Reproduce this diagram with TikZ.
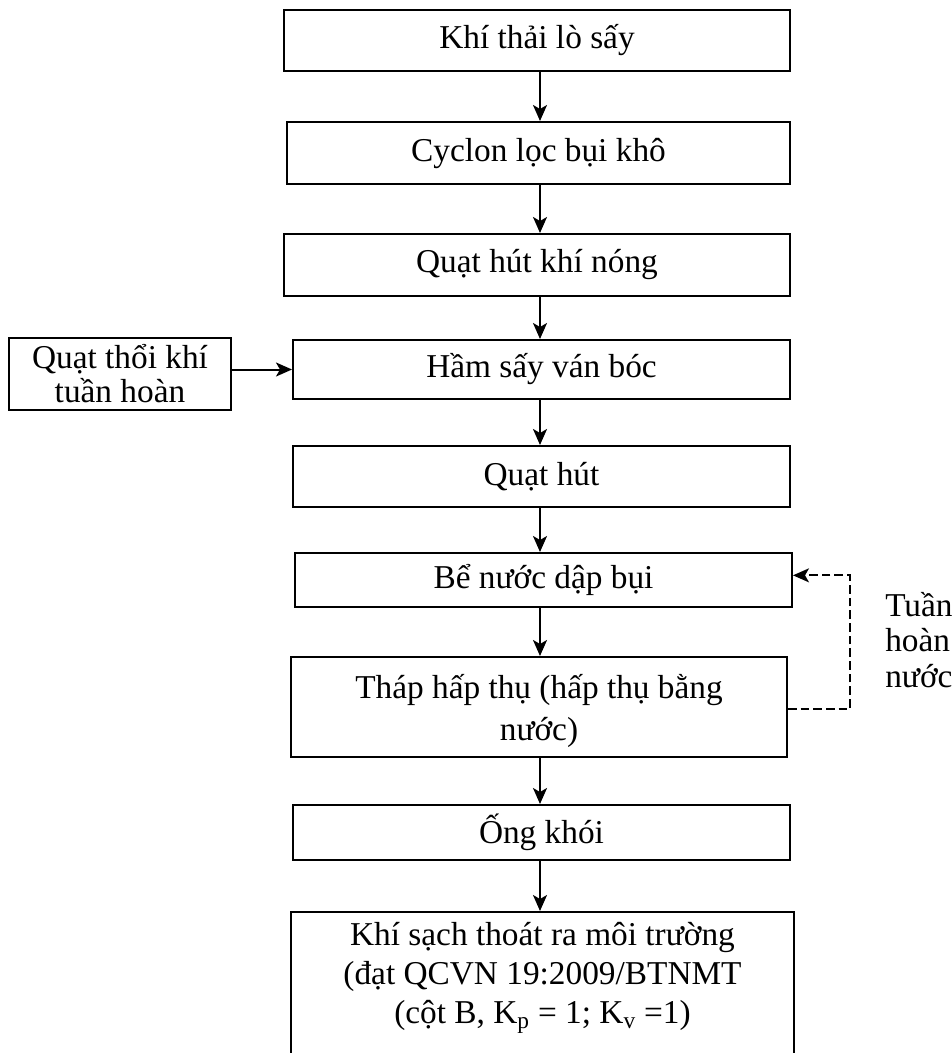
\documentclass[tikz,border=0pt]{standalone}
\usepackage{fontspec}
\setmainfont{Liberation Serif}
\usetikzlibrary{arrows.meta,calc}
\begin{document}
\begin{tikzpicture}[x=0.75pt,y=-0.75pt,
  every node/.style={font=\fontsize{25}{28}\selectfont},
  box/.style={draw,line width=1.5pt,inner sep=0pt,align=center},
  tip/.style={-{Stealth[length=12pt,width=10.5pt,inset=3pt]}},
  arr/.style={line width=1.5pt,tip},
  darr/.style={line width=1.3pt,dash pattern=on 6.5pt off 3pt,tip}]
\clip (0,0) rectangle (952,1053);
\path[use as bounding box] (0,0) rectangle (952,1053);
\coordinate (ax) at (540,0);
\node[box,minimum width=379.5pt,minimum height=45.75pt] (n1) at (537,40.5) {Khí thải lò sấy};
\node[box,minimum width=377.25pt,minimum height=46.5pt] (n2) at (538.5,153) {Cyclon lọc bụi khô};
\node[box,minimum width=379.5pt,minimum height=46.5pt] (n3) at (537,265) {Quạt hút khí nóng};
\node[box,minimum width=372.75pt,minimum height=44.25pt] (n4) at (541.5,369.5) {Hầm sấy ván bóc};
\node[box,minimum width=372.75pt,minimum height=45.75pt] (n5) at (541.5,476.5) {Quạt hút};
\node[box,minimum width=372.75pt,minimum height=40.5pt] (n6) at (543.5,580) {Bể nước dập bụi};
\node[box,minimum width=372pt,minimum height=75pt] (n7) at (539,707) {};
\node[align=center,font=\fontsize{25}{31}\selectfont] (t7) at (539,711) {Tháp hấp thụ (hấp thụ bằng\\nước)};
\node[box,minimum width=372.75pt,minimum height=41.25pt] (n8) at (541.5,832.5) {Ống khói};
\node[box,minimum width=377.25pt,minimum height=126.75pt,anchor=north] (n9) at (542.5,911) {};
\node[align=center,anchor=north,font=\fontsize{25}{29}\selectfont] (t9) at (542.5,918) {Khí sạch thoát ra môi trường\\(đạt QCVN 19:2009/BTNMT\\(cột B, K\textsubscript{p} = 1; K\textsubscript{v} =1)};
\node[box,minimum width=166.5pt,minimum height=54pt,font=\fontsize{25}{25.5}\selectfont] (L) at (120,374) {Quạt thổi khí\\tuần hoàn};
\node[align=left,anchor=north west,inner sep=0pt,font=\fontsize{25}{26.5}\selectfont] (R) at (885,592) {Tuần\\hoàn\\nước};
\draw[arr] (n1.south -| ax) -- (n2.north -| ax);
\draw[arr] (n2.south -| ax) -- (n3.north -| ax);
\draw[arr] (n3.south -| ax) -- (n4.north -| ax);
\draw[arr] (n4.south -| ax) -- (n5.north -| ax);
\draw[arr] (n5.south -| ax) -- (n6.north -| ax);
\draw[arr] (n6.south -| ax) -- (n7.north -| ax);
\draw[arr] (n7.south -| ax) -- (n8.north -| ax);
\draw[arr] (n8.south -| ax) -- (n9.north -| ax);
\draw[arr] (L.east |- n4.west) -- (n4.west);
\draw[darr] ([yshift=-1.5pt]n7.east) -- ++(62,0) |- ([yshift=3.5pt]n6.east);
\end{tikzpicture}
\end{document}
